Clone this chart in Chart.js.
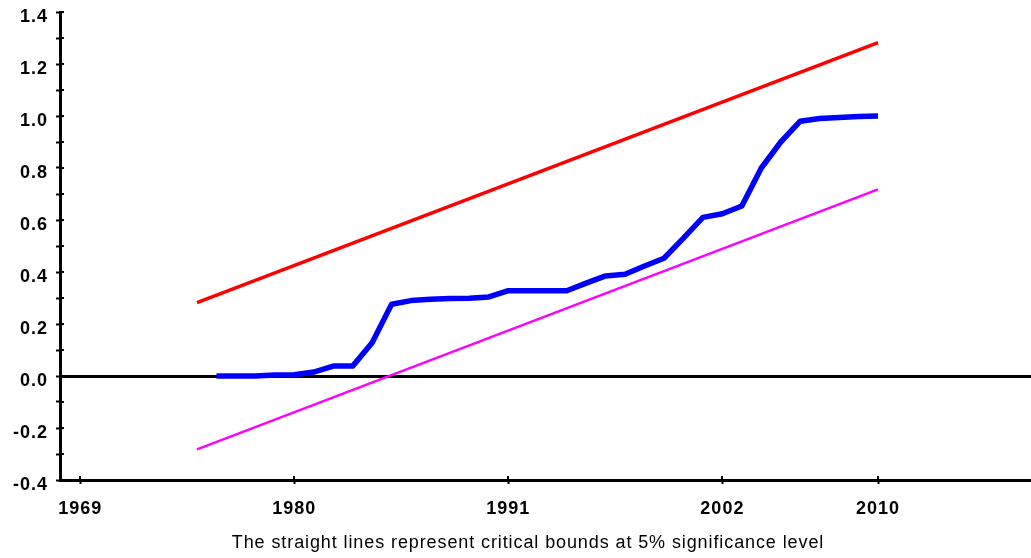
<!DOCTYPE html>
<html>
<head>
<meta charset="utf-8">
<script src="https://cdn.jsdelivr.net/npm/chart.js@4/dist/chart.umd.min.js"></script>
<style>
  html, body { margin: 0; padding: 0; background: #fff; }
  #wrap { width: 1031px; height: 558px; }
</style>
</head>
<body>
<div id="wrap"><canvas id="c" width="1031" height="558"></canvas></div>
<script>
// Cumulative sum of squared recursive residuals, by year
const years = [1976, 1977, 1978, 1979, 1980, 1981, 1982, 1983, 1984, 1985,
               1986, 1987, 1988, 1989, 1990, 1991, 1992, 1993, 1994, 1995,
               1996, 1997, 1998, 1999, 2000, 2001, 2002, 2003, 2004, 2005,
               2006, 2007, 2008, 2009, 2010];
const cusumSq = [0.000, 0.000, 0.000, 0.004, 0.005, 0.015, 0.038, 0.038, 0.128, 0.276,
                 0.290, 0.295, 0.298, 0.299, 0.304, 0.328, 0.328, 0.328, 0.328, 0.357,
                 0.385, 0.391, 0.423, 0.453, 0.530, 0.610, 0.624, 0.654, 0.800, 0.900,
                 0.980, 0.990, 0.994, 0.998, 1.000];

// 5% critical bounds (straight lines between the end points)
const boundYears = [1975, 2010];
const upperBound = [0.282, 1.282];
const lowerBound = [-0.282, 0.718];

// Axis ticks
const xTickYears = [1969, 1980, 1991, 2002, 2010];
const yMin = -0.4, yMax = 1.4, yStep = 0.1;

const caption = 'The straight lines represent critical bounds at 5% significance level';

const toPoints = (xs, ys) => xs.map((x, i) => ({ x: x, y: ys[i] }));

const FONT = 'Liberation Sans, Arial, Helvetica, sans-serif';

// Slightly spaced lettering for the tick labels
const spacing = {
  id: 'spacing',
  beforeLayout(chart) { chart.ctx.letterSpacing = '1px'; },
  beforeDraw(chart) { chart.ctx.letterSpacing = '1px'; }
};

// Tick marks that cross the axis lines (inner half)
const innerTicks = {
  id: 'innerTicks',
  afterDraw(chart) {
    const { ctx, chartArea, scales } = chart;
    ctx.save();
    ctx.strokeStyle = '#000';
    ctx.lineWidth = 2;
    ctx.beginPath();
    scales.y.ticks.forEach(t => {
      const py = Math.round(scales.y.getPixelForValue(t.value));
      ctx.moveTo(chartArea.left, py);
      ctx.lineTo(chartArea.left + 4, py);
    });
    scales.x.ticks.forEach(t => {
      const px = Math.round(scales.x.getPixelForValue(t.value));
      ctx.moveTo(px, chartArea.bottom);
      ctx.lineTo(px, chartArea.bottom - 4);
    });
    ctx.stroke();
    ctx.restore();
  }
};

// Footnote under the axis
const footnote = {
  id: 'footnote',
  afterDraw(chart) {
    const ctx = chart.ctx;
    ctx.save();
    ctx.letterSpacing = '0.9px';
    ctx.font = '18px ' + FONT;
    ctx.fillStyle = '#000';
    ctx.textAlign = 'center';
    ctx.textBaseline = 'middle';
    ctx.fillText(caption, 528, 543);
    ctx.restore();
  }
};

new Chart(document.getElementById('c'), {
  type: 'scatter',
  data: {
    datasets: [
      {
        label: 'Upper bound',
        data: toPoints(boundYears, upperBound),
        showLine: true,
        borderColor: '#ff0000',
        borderWidth: 3.5,
        pointRadius: 0,
        tension: 0
      },
      {
        label: 'CUSUM of squares',
        data: toPoints(years, cusumSq),
        showLine: true,
        borderColor: '#0000ff',
        borderWidth: 5.5,
        borderJoinStyle: 'round',
        pointRadius: 0,
        tension: 0
      },
      {
        label: 'Lower bound',
        data: toPoints(boundYears, lowerBound),
        showLine: true,
        borderColor: '#ff00ff',
        borderWidth: 2.5,
        pointRadius: 0,
        tension: 0
      }
    ]
  },
  options: {
    responsive: false,
    animation: false,
    devicePixelRatio: 1,
    layout: { padding: { top: 12, right: 0, left: 0, bottom: 0 } },
    plugins: {
      legend: { display: false },
      tooltip: { enabled: false },
      title: { display: false }
    },
    scales: {
      x: {
        type: 'linear',
        min: 1967.96,
        max: 2017.86,
        afterBuildTicks(scale) {
          scale.ticks = xTickYears.map(v => ({ value: v }));
        },
        afterFit(scale) {
          scale.height = 78;
          scale.paddingLeft = 0;
          scale.paddingRight = 0;
        },
        ticks: {
          callback: v => String(v),
          color: '#000',
          font: { family: FONT, size: 18, weight: 'bold' },
          padding: 14,
          maxRotation: 0,
          autoSkip: false
        },
        grid: {
          drawOnChartArea: false,
          drawTicks: true,
          tickLength: 4,
          tickColor: '#000',
          tickWidth: 2
        },
        border: { display: true, color: '#000', width: 3 }
      },
      y: {
        type: 'linear',
        min: yMin,
        max: yMax,
        z: 1,
        afterFit(scale) {
          scale.width = 60;
          scale.paddingTop = 0;
          scale.paddingBottom = 0;
        },
        ticks: {
          stepSize: yStep,
          autoSkip: false,
          color: '#000',
          font: { family: FONT, size: 18, weight: 'bold' },
          padding: 8,
          labelOffset: 5,
          callback: v => {
            const tenths = Math.round(v * 10);
            return tenths % 2 === 0 ? (tenths / 10).toFixed(1).replace('-0.0', '0.0') : '';
          }
        },
        grid: {
          drawOnChartArea: true,
          drawTicks: true,
          tickLength: 4,
          tickColor: '#000',
          tickWidth: 2,
          lineWidth: 3,
          color: ctx => (ctx.tick && Math.abs(ctx.tick.value) < 1e-9 ? '#000' : 'rgba(0,0,0,0)')
        },
        border: { display: true, color: '#000', width: 3 }
      }
    }
  },
  plugins: [spacing, innerTicks, footnote]
});
</script>
</body>
</html>
